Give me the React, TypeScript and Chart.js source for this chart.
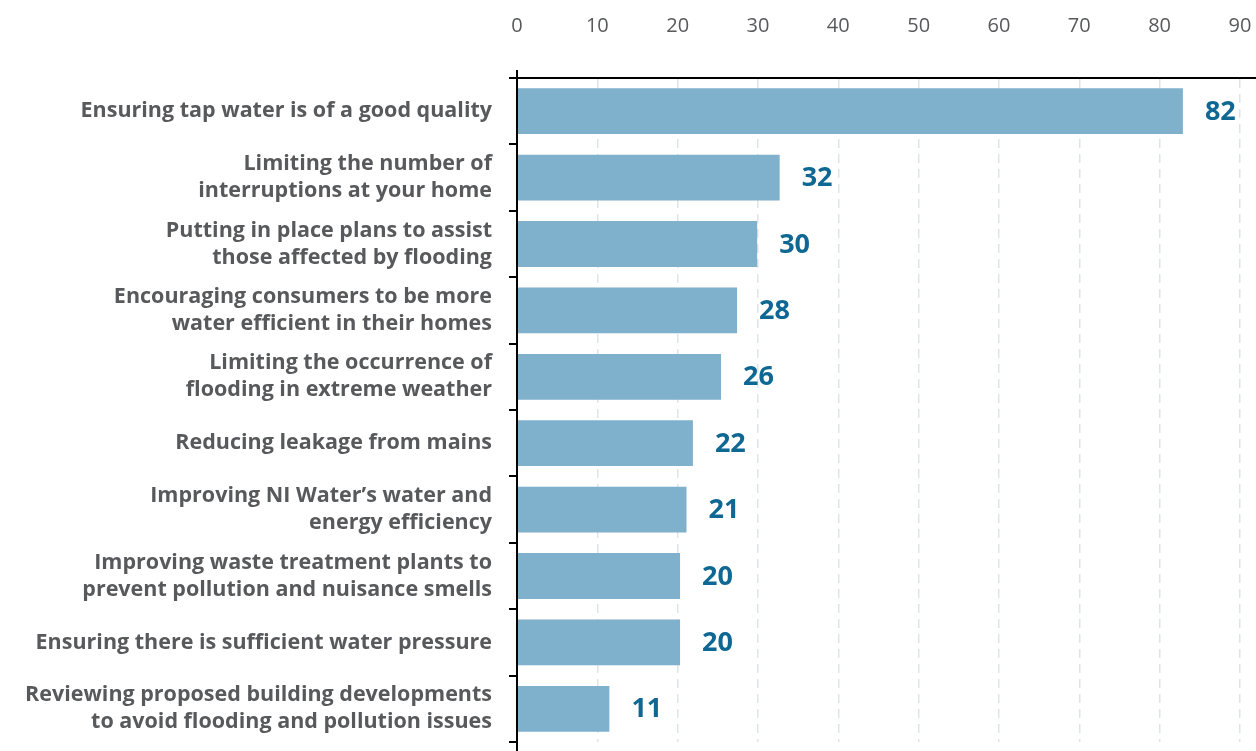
import React, { useEffect, useRef } from "react";
import { Chart, registerables } from "chart.js";

Chart.register(...registerables);

const categories: (string | string[])[] = [
  "Ensuring tap water is of a good quality",
  ["Limiting the number of", "interruptions at your home"],
  ["Putting in place plans to assist", "those affected by flooding"],
  ["Encouraging consumers to be more", "water efficient in their homes"],
  ["Limiting the occurrence of", "flooding in extreme weather"],
  "Reducing leakage from mains",
  ["Improving NI Water’s water and", "energy efficiency"],
  ["Improving waste treatment plants to", "prevent pollution and nuisance smells"],
  "Ensuring there is sufficient water pressure",
  ["Reviewing proposed building developments", "to avoid flooding and pollution issues"],
];

// bar lengths as drawn
const barValues = [82.9, 32.7, 29.9, 27.4, 25.4, 21.9, 21.1, 20.3, 20.3, 11.5];
// printed value labels
const valueLabels = ["82", "32", "30", "28", "26", "22", "21", "20", "20", "11"];

const xTickValues = [0, 10, 20, 30, 40, 50, 60, 70, 80, 90];
const xMax = 92;

const LABEL_FONT = "'Open Sans', sans-serif";

export default function App() {
  const canvasRef = useRef<HTMLCanvasElement | null>(null);

  useEffect(() => {
    if (!canvasRef.current) return;

    const valueLabelPlugin = {
      id: "valueLabels",
      afterDatasetsDraw(chart: any) {
        const ctx = chart.ctx;
        const meta = chart.getDatasetMeta(0);
        ctx.save();
        ctx.font = `700 27px ${LABEL_FONT}`;
        ctx.fillStyle = "#0e6893";
        ctx.textAlign = "left";
        ctx.textBaseline = "middle";
        meta.data.forEach((bar: any, i: number) => {
          ctx.fillText(valueLabels[i], bar.x + 22, bar.y + 1);
        });
        ctx.restore();
      },
    };

    const axisExtendPlugin = {
      id: "axisExtend",
      afterDraw(chart: any) {
        const { ctx, chartArea } = chart;
        ctx.save();
        ctx.strokeStyle = "#000";
        ctx.lineWidth = 2;
        ctx.beginPath();
        ctx.moveTo(chartArea.left, chartArea.top - 8);
        ctx.lineTo(chartArea.left, chart.height);
        ctx.stroke();
        ctx.restore();
      },
    };

    const chart = new Chart(canvasRef.current, {
      type: "bar",
      data: {
        labels: categories,
        datasets: [
          {
            data: barValues,
            backgroundColor: "#7fb0cc",
            borderWidth: 0,
            barPercentage: 0.69,
            categoryPercentage: 1,
          },
        ],
      },
      options: {
        indexAxis: "y",
        animation: false,
        responsive: true,
        maintainAspectRatio: false,
        layout: { padding: { left: 0, right: 0, top: 0, bottom: 9 } },
        plugins: {
          legend: { display: false },
          tooltip: { enabled: false },
        },
        scales: {
          x: {
            position: "top",
            min: 0,
            max: xMax,
            afterBuildTicks: (scale: any) => {
              scale.ticks = xTickValues.map((v) => ({ value: v }));
            },
            afterFit: (scale: any) => {
              scale.height = 78;
              scale.paddingRight = 0;
            },
            ticks: {
              color: "#58595b",
              font: { family: LABEL_FONT, size: 20, weight: "400" },
              padding: 40,
            },
            grid: {
              drawTicks: false,
              color: "#dde5ea",
              lineWidth: 1.5,
            },
            border: {
              display: true,
              color: "#000",
              width: 2,
              dash: [9, 6],
            },
          },
          y: {
            offset: true,
            afterFit: (scale: any) => {
              scale.width = 517;
              scale.paddingTop = 0;
              scale.paddingBottom = 0;
            },
            ticks: {
              color: "#58595b",
              font: { family: LABEL_FONT, size: 21.5, weight: "700", lineHeight: 1.26 },
              padding: 17,
            },
            grid: {
              offset: true,
              drawOnChartArea: false,
              drawTicks: true,
              tickLength: 8,
              color: "#000",
              lineWidth: 2,
            },
            border: {
              display: true,
              color: "#000",
              width: 2,
            },
          },
        },
      },
      plugins: [valueLabelPlugin, axisExtendPlugin],
    } as any);

    return () => chart.destroy();
  }, []);

  return (
    <div
      style={{
        position: "absolute",
        left: 0,
        top: 0,
        width: 1256,
        height: 751,
        background: "#fff",
      }}
    >
      <canvas ref={canvasRef} />
    </div>
  );
}
